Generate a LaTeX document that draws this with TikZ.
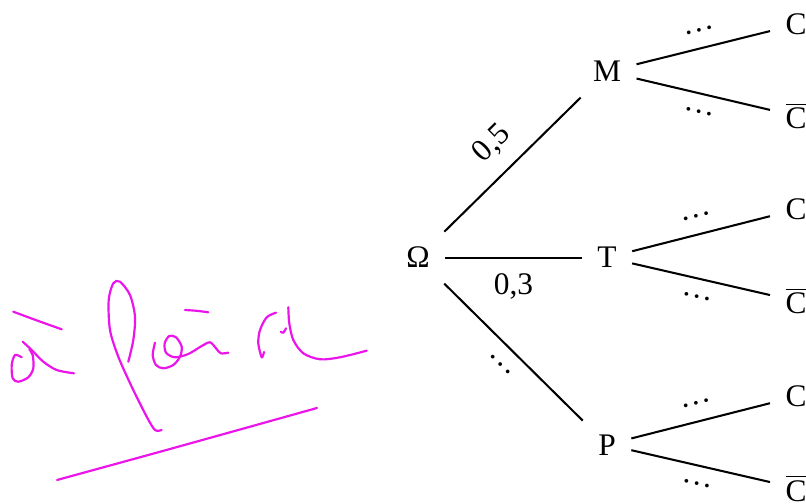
\documentclass[tikz,border=0pt]{standalone}
\usepackage{fontspec}
\setmainfont{Liberation Serif}
\usetikzlibrary{positioning}
\definecolor{encre}{RGB}{235,20,235}

\begin{document}
\begin{tikzpicture}[
        x=0.366pt, y=-0.366pt,
        every node/.style={inner sep=5.5pt, font=\fontsize{11.5}{13}\selectfont},
        feuille/.style={anchor=base},
        etat/.style  ={feuille, text height=7.6pt, text depth=0pt},
        branche/.style={line width=0.75pt},
        stylo/.style ={draw=encre, line width=0.8pt, line cap=round, line join=round}
    ]
    \useasboundingbox (0,0) rectangle (806,504);

    % --- noeuds ---
    \node[etat] (om) at (418,268) {Ω};

    \node[etat] (m) at (607,82)  {M};
    \node[etat] (t) at (607,268) {T};
    \node[etat] (p) at (607,455) {P};

    \node[etat]    (mc)  at (796,35)  {C};
    \node[feuille] (mcb) at (796,129) {$\overline{\mbox{C}}$};
    \node[etat]    (tc)  at (796,220) {C};
    \node[feuille] (tcb) at (796,314) {$\overline{\mbox{C}}$};
    \node[etat]    (pc)  at (796,407) {C};
    \node[feuille] (pcb) at (796,501) {$\overline{\mbox{C}}$};

    % --- branches ---
    \draw[branche] (om) -- node[sloped, above] {0,5} (m);
    \draw[branche] (om) -- node[sloped, below] {0,3} (t);
    \draw[branche] (om) -- node[sloped, below] {…} (p);

    \draw[branche] (m) -- node[sloped, above] {…} (mc);
    \draw[branche] (m) -- node[sloped, below] {…} (mcb);
    \draw[branche] (t) -- node[sloped, above] {…} (tc);
    \draw[branche] (t) -- node[sloped, below] {…} (tcb);
    \draw[branche] (p) -- node[sloped, above] {…} (pc);
    \draw[branche] (p) -- node[sloped, below] {…} (pcb);

    % --- annotation manuscrite ---
    % a
    \draw[stylo] plot[smooth] coordinates {(13.3,311.7) (37,320.5) (61.7,329.3)};
    \draw[stylo] plot[smooth] coordinates {(22.7,341.7) (31.7,350) (43.3,361.7) (56.7,370) (74,373.3)};
    \draw[stylo] plot[smooth] coordinates {(21.7,357.3) (15,355) (11.7,365) (12.7,378.3)
        (18.3,381.7) (28.3,377.3) (33.3,368.3) (32.7,355) (29.3,349.3)};
    % f
    \draw[stylo] plot[smooth] coordinates {(128.3,361.7) (133.3,340) (135,316.7) (130,295)
        (120,281.7) (113.3,283.3) (108.7,300) (110,330) (118.3,356.7) (131.7,386.7)
        (146.7,416.7) (155,430) (161.7,430)};
    % ai
    \draw[stylo] plot[smooth] coordinates {(155,342.7) (152.7,355) (156,365) (163.3,368.3)
        (173.3,365) (180,356.7) (181.7,346.7) (176,337.3) (169.3,336) (164.7,343.3)
        (166,352.7) (175,357.3) (188.3,354) (201.7,346) (210,342.3) (216,348.3)
        (220.7,353.3) (228.3,352.7)};
    \draw[stylo] plot[smooth] coordinates {(185,310) (196.7,310.8) (208.3,312.3)};
    % r
    \draw[stylo] plot[smooth] coordinates {(276,312.7) (266.7,317.3) (260,330) (258.3,343.3)
        (261.7,357.3) (264,352)};
    % e
    \draw[stylo] plot[smooth] coordinates {(280.7,331.7) (283.3,332.7) (286,328.3)};
    \draw[stylo] plot[smooth] coordinates {(288.3,307.3) (289.3,323.3) (293.3,340) (303.3,353.3)
        (320,359.3) (340,357.3) (366.7,350.7)};
    % soulignement
    \draw[stylo] plot[smooth] coordinates {(57,480) (170,449) (317,408)};

\end{tikzpicture}
\end{document}
